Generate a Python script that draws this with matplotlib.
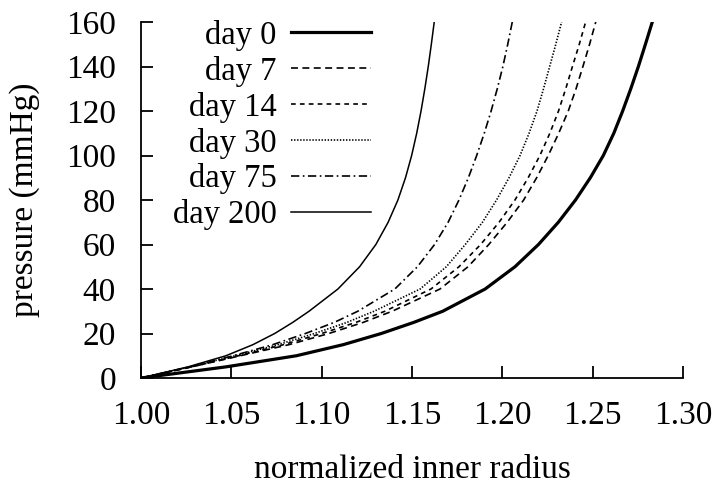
import matplotlib
matplotlib.use("Agg")
import matplotlib.pyplot as plt
from matplotlib.ticker import FormatStrFormatter

### Data ################################################################################
# pressure levels (mmHg) and the normalized inner radius read for each curve
pressure = [0, 5, 10, 15, 20, 25, 30, 40, 50, 60, 70, 80, 90, 100, 110, 120, 130, 140, 150, 160]

radius_day0 = [1.0, 1.047, 1.086, 1.112, 1.133, 1.151, 1.167, 1.1905, 1.2070, 1.2200,
               1.2310, 1.2405, 1.2487, 1.2559, 1.2617, 1.2666, 1.2711, 1.2753, 1.2792, 1.2830]
radius_day7 = [1.0, 1.028, 1.055, 1.082, 1.104, 1.123, 1.139, 1.1655, 1.181, 1.1925,
               1.2027, 1.2118, 1.219, 1.2254, 1.2312, 1.2365, 1.2408, 1.2446, 1.2483, 1.2517]
radius_day14 = [1.0, 1.028, 1.054, 1.079, 1.100, 1.119, 1.135, 1.1605, 1.176, 1.1880,
                1.1982, 1.2070, 1.2143, 1.2208, 1.2263, 1.2311, 1.2351, 1.2388, 1.2426, 1.2461]
radius_day30 = [1.0, 1.027, 1.052, 1.076, 1.096, 1.114, 1.129, 1.1545, 1.169, 1.1795,
                1.189, 1.1968, 1.2037, 1.2098, 1.2148, 1.2192, 1.2228, 1.2262, 1.2296, 1.2328]
radius_day75 = [1.0, 1.027, 1.051, 1.073, 1.091, 1.107, 1.120, 1.1405, 1.1530, 1.1625,
                1.1700, 1.1760, 1.1812, 1.1858, 1.1900, 1.1938, 1.1972, 1.2003, 1.2030, 1.2055]
radius_day200 = [1.0, 1.026, 1.047, 1.062, 1.074, 1.084, 1.093, 1.109, 1.121, 1.130,
                 1.1368, 1.1422, 1.1464, 1.1498, 1.1526, 1.155, 1.1571, 1.159, 1.1607, 1.1623]

labels = ["day 0", "day 7", "day 14", "day 30", "day 75", "day 200"]

### Style ###############################################################################
plt.rcParams["font.family"] = ["Liberation Serif", "DejaVu Serif"]
plt.rcParams["lines.scale_dashes"] = False

fig = plt.figure(figsize=(7.22, 4.88), dpi=100)
ax = fig.add_axes([141 / 722, 1 - 378 / 488, 542 / 722, 356 / 488])

series = [radius_day0, radius_day7, radius_day14, radius_day30, radius_day75, radius_day200]
styles = ["-", (0, (5.0, 3.2)), (0, (3.4, 3.0)), (0, (1.0, 1.2)),
          (0, (6.0, 2.5, 1.2, 2.5)), "-"]
widths = [2.3, 1.2, 1.2, 1.2, 1.2, 1.1]

for r, lab, ls, lw in zip(series, labels, styles, widths):
    ax.plot(r, pressure, color="black", linestyle=ls, linewidth=lw, label=lab)

ax.set_xlim(1.0, 1.3)
ax.set_ylim(0, 160)
ax.set_xticks([1.00, 1.05, 1.10, 1.15, 1.20, 1.25, 1.30])
ax.set_yticks(range(0, 161, 20))
ax.xaxis.set_major_formatter(FormatStrFormatter("%.2f"))

ax.spines["top"].set_visible(False)
ax.spines["right"].set_visible(False)
ax.spines["left"].set_linewidth(1.3)
ax.spines["bottom"].set_linewidth(1.3)
ax.tick_params(direction="in", length=8.5, width=1.3, labelsize=24)
ax.tick_params(axis="y", pad=18)
ax.tick_params(axis="x", pad=16)

ax.set_xlabel("normalized inner radius", fontsize=24, labelpad=17)
ax.set_ylabel("pressure (mmHg)", fontsize=24, labelpad=19)

ax.legend(loc="upper right", bbox_to_anchor=(0.425, 1.006), frameon=False,
          markerfirst=False, fontsize=23.5, borderpad=0, borderaxespad=0,
          handlelength=2.45, handletextpad=0.45, labelspacing=0.15)

fig.savefig("out.png", dpi=100)
